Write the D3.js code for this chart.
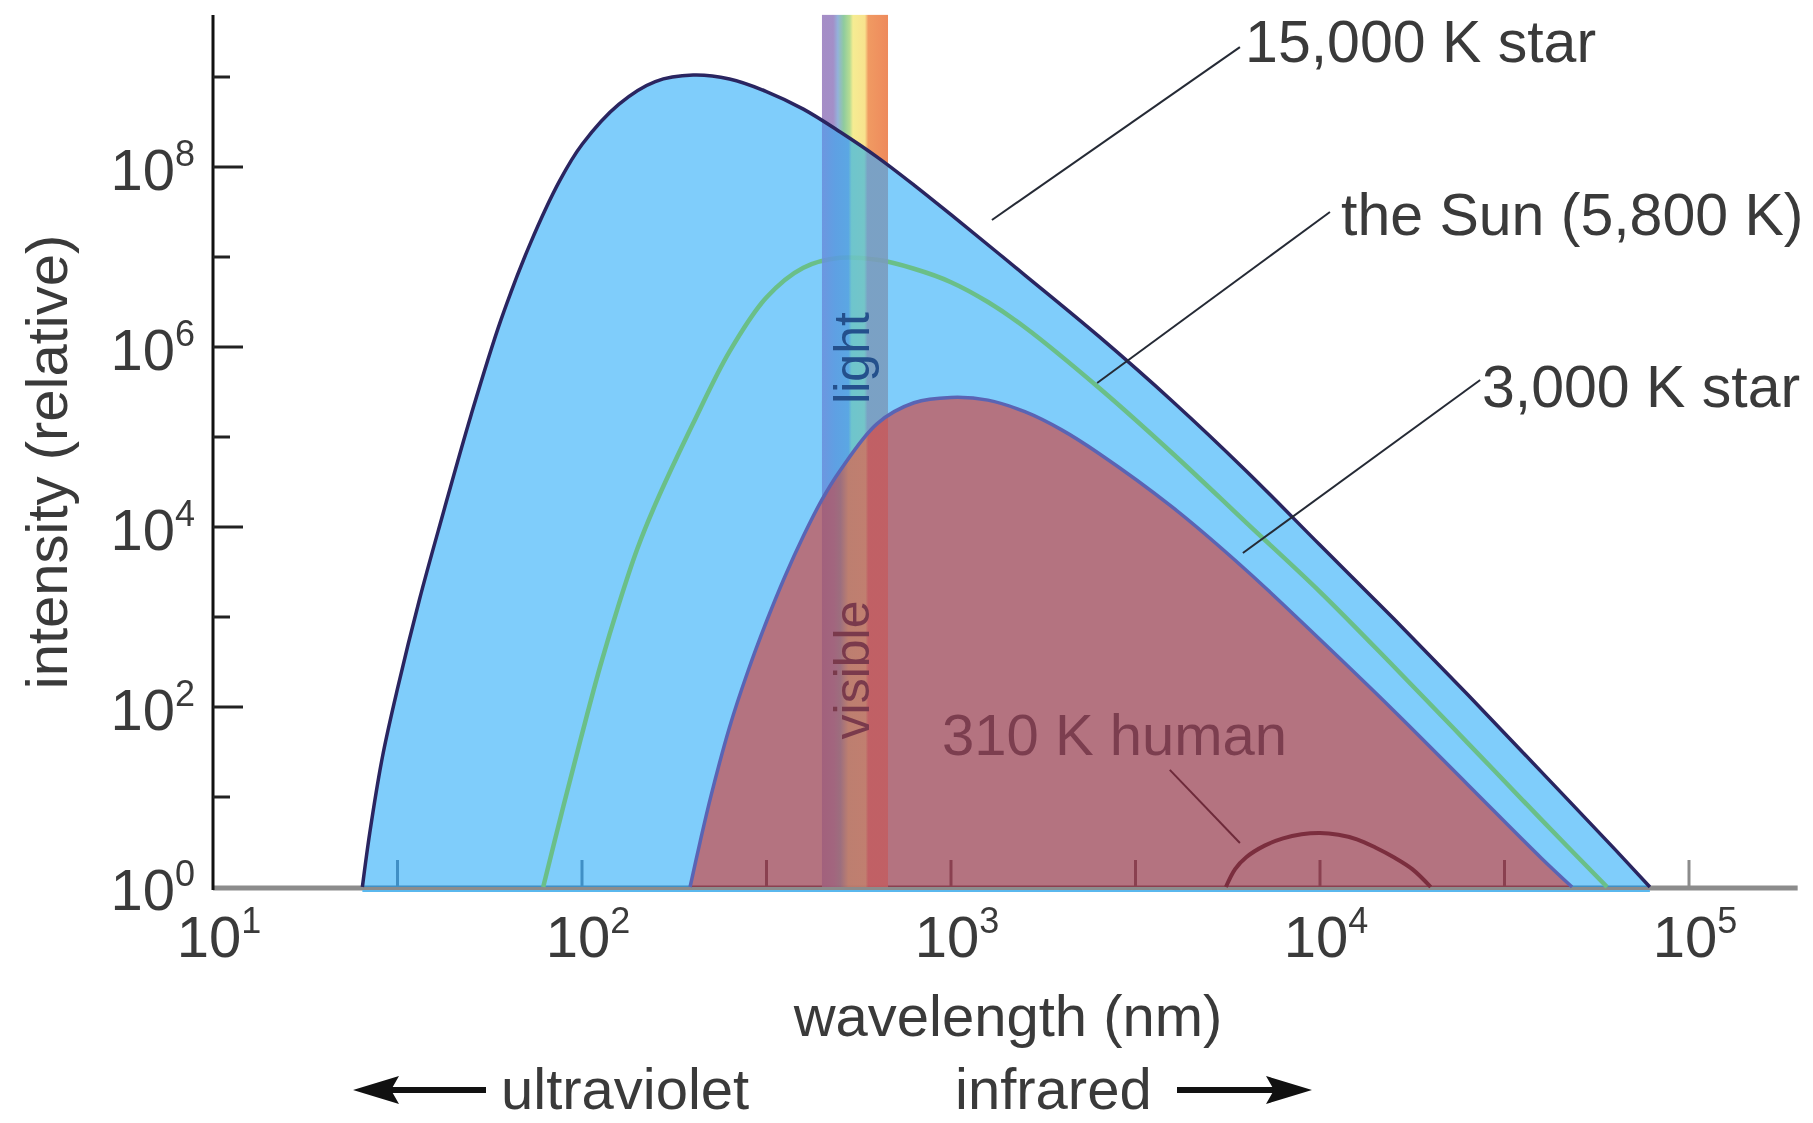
<!DOCTYPE html>
<html lang="en">
<head>
  <meta charset="UTF-8" />
  <title>Blackbody curves</title>
  <script src="https://cdn.jsdelivr.net/npm/d3@7"></script>
  <style>
    body { margin: 0; background: #fff; }
    text { font-family: "Liberation Sans", Arial, Helvetica, sans-serif; }
  </style>
</head>
<body>
<script>
  const width = 1813;
  const height = 1123;

  // curves: [wavelength (nm), relative intensity]
  const star15000 = [[25.4, 1], [26.6, 4], [28.8, 28.2], [31.6, 158], [36.3, 1585], [41.7, 1.26e4],
    [50.1, 1.78e5], [60.3, 2.0e6], [72.4, 1.41e7], [87.1, 7.1e7], [100, 1.78e8], [126, 5.0e8],
    [158, 8.9e8], [200, 1.05e9], [251, 9.5e8], [316, 6.9e8], [398, 4.4e8], [501, 2.45e8],
    [631, 1.29e8], [794, 6.3e7], [1000, 2.95e7], [1585, 6.3e6], [2512, 1.32e6], [3981, 2.5e5],
    [6310, 4.2e4], [10000, 6300], [15849, 955], [25119, 138], [39811, 19], [63096, 2.6], [78343, 1]];

  const sun5800 = [[78.5, 1], [89.1, 8], [100, 50], [112, 282], [126, 1410], [141, 5620],
    [158, 1.78e4], [200, 1.41e5], [251, 8.9e5], [316, 3.55e6], [398, 7.6e6], [501, 9.8e6],
    [631, 9.3e6], [794, 7.4e6], [1000, 5.25e6], [1259, 3.16e6], [1585, 1.66e6], [2512, 3.55e5],
    [3981, 6.6e4], [6310, 1.12e4], [10000, 1905], [15849, 282], [25119, 40], [39811, 5.6], [59980, 1]];

  const star3000 = [[196.3, 1], [208.9, 3.16], [223.9, 10.5], [251.2, 60], [281.8, 251],
    [316.2, 891], [354.8, 2820], [398.1, 7940], [446.7, 2.0e4], [501.2, 4.27e4], [631, 1.41e5],
    [794, 2.4e5], [1000, 2.75e5], [1259, 2.57e5], [1585, 1.91e5], [1995, 1.2e5], [2512, 6.6e4],
    [3981, 1.66e4], [6310, 3310], [10000, 562], [15849, 91], [25119, 13.8], [39811, 2.09], [48195, 1]];

  const human310 = [[5559, 1], [5888, 1.58], [6310, 2.14], [7079, 2.88], [7943, 3.47],
    [8913, 3.85], [10000, 3.98], [11220, 3.8], [12589, 3.39], [14125, 2.75], [15849, 2.14],
    [17783, 1.58], [19953, 1]];

  const visibleBand = [447, 675];
  const xLabelExps = [1, 2, 3, 4, 5];
  const xTickExps = [1.5, 2, 2.5, 3, 3.5, 4, 4.5, 5];
  const yLabelExps = [0, 2, 4, 6, 8];
  const yMajorExps = [2, 4, 6, 8];
  const yMinorExps = [1, 3, 5, 7, 9];
  const xAxisEnd = 1.97e5;
  const yAxisTop = 4.9e9;

  // callout labels: text position and leader line ends, in data units
  const callouts = [
    { text: '15,000 K star', at: [6266, 1.47e9], from: [6067, 2.15e9], to: [1291, 2.58e7] },
    { text: 'the Sun (5,800 K)', at: [11400, 1.75e7], from: [10640, 3.16e7], to: [2489, 3.98e5] },
    { text: '3,000 K star', at: [27480, 2.15e5], from: [27170, 4.3e5], to: [6180, 5140] }
  ];
  const humanCallout = { text: '310 K human', at: [946, 29.3], from: [3917, 20], to: [6067, 3.08] };
  const bandLabels = [{ text: 'light', at: 7.55e5, color: '#24508c' },
                      { text: 'visible', at: 258, color: '#7a3a4c' }];

  // band colours: over white, over the blue area, over the red area
  const bandWhite = [[0, '#a58dc6'], [0.17, '#a38fc8'], [0.24, '#93b2da'], [0.33, '#8fcb9e'],
    [0.42, '#b6dc92'], [0.47, '#f6ec92'], [0.65, '#f8e28e'], [0.70, '#f09a62'], [1, '#ee8a5c']];
  const bandBlue = [[0, '#6a8fdc'], [0.2, '#5a9ae0'], [0.40, '#56a2e0'], [0.45, '#6cc4c6'],
    [0.64, '#72c4c2'], [0.69, '#7a9bbd'], [1, '#7a9bbd']];
  const bandRed = [[0, '#a05f7c'], [0.18, '#a0647e'], [0.28, '#9a6e7e'], [0.40, '#be806e'],
    [0.66, '#c2806e'], [0.70, '#c25e62'], [1, '#c25e62']];

  const x = d3.scaleLog().domain([10, 1e5]).range([213, 1689]);
  const y = d3.scaleLog().domain([1, 1e9]).range([887, 77]);

  const svg = d3.select('body').append('svg')
    .attr('width', width)
    .attr('height', height);

  const curve = d3.curveCatmullRom.alpha(0.5);
  const line = d3.line().x(d => x(d[0])).y(d => y(d[1])).curve(curve);
  const area = d3.area().x(d => x(d[0])).y0(y(1)).y1(d => y(d[1])).curve(curve);

  const defs = svg.append('defs');
  defs.append('clipPath').attr('id', 'clip15').append('path').attr('d', area(star15000));
  defs.append('clipPath').attr('id', 'clip3').append('path').attr('d', area(star3000));

  function gradient(id, stops) {
    const g = defs.append('linearGradient').attr('id', id)
      .attr('x1', 0).attr('x2', 1).attr('y1', 0).attr('y2', 0);
    g.selectAll('stop').data(stops).join('stop')
      .attr('offset', d => d[0]).attr('stop-color', d => d[1]);
  }
  gradient('bandWhite', bandWhite);
  gradient('bandBlue', bandBlue);
  gradient('bandRed', bandRed);

  function band(fill, clip, opacity) {
    const r = svg.append('rect')
      .attr('x', x(visibleBand[0]))
      .attr('width', x(visibleBand[1]) - x(visibleBand[0]))
      .attr('y', y(yAxisTop))
      .attr('height', y(1) - y(yAxisTop))
      .attr('fill', `url(#${fill})`)
      .attr('opacity', opacity);
    if (clip) r.attr('clip-path', `url(#${clip})`);
  }

  // x axis ticks, optionally tinted for the coloured areas
  function xAxisMarks(g, color) {
    g.append('line')
      .attr('x1', x(10)).attr('x2', x(xAxisEnd))
      .attr('y1', y(1) + 1).attr('y2', y(1) + 1)
      .attr('stroke', color).attr('stroke-width', 5);
    g.selectAll('.xt').data(xTickExps).join('line')
      .attr('x1', d => x(Math.pow(10, d))).attr('x2', d => x(Math.pow(10, d)))
      .attr('y1', y(1)).attr('y2', y(1) - 27)
      .attr('stroke', color).attr('stroke-width', 3);
  }

  // visible band over white
  band('bandWhite', null, 1);

  // plain axis marks (covered by the fills)
  xAxisMarks(svg.append('g'), '#8c8c8c');

  // 15,000 K fill
  svg.append('path').attr('d', area(star15000)).attr('fill', '#7fcdfb');
  xAxisMarks(svg.append('g').attr('clip-path', 'url(#clip15)')
    .style('mix-blend-mode', 'multiply'), '#7fb2c8');

  // sun curve
  svg.append('path').attr('d', line(sun5800))
    .attr('fill', 'none').attr('stroke', '#6abf88').attr('stroke-width', 4.5);

  band('bandBlue', 'clip15', 0.88);

  // 3,000 K fill
  svg.append('path').attr('d', area(star3000)).attr('fill', '#b47380');
  xAxisMarks(svg.append('g').attr('clip-path', 'url(#clip3)')
    .style('mix-blend-mode', 'multiply'), '#c48ea0');
  band('bandRed', 'clip3', 0.9);

  // bright base line under the fills
  svg.append('line')
    .attr('x1', x(star15000[0][0])).attr('x2', x(star15000[star15000.length - 1][0]))
    .attr('y1', y(1) + 4).attr('y2', y(1) + 4)
    .attr('stroke', '#5ab8ee').attr('stroke-width', 2);

  // outlines
  svg.append('path').attr('d', line(star3000))
    .attr('fill', 'none').attr('stroke', '#5a64b4').attr('stroke-width', 3.5);
  svg.append('path').attr('d', line(star15000))
    .attr('fill', 'none').attr('stroke', '#2a2560').attr('stroke-width', 3.5);
  svg.append('path').attr('d', line(human310))
    .attr('fill', 'none').attr('stroke', '#7b2e3e').attr('stroke-width', 4);

  // band labels
  const bandX = x(Math.sqrt(visibleBand[0] * visibleBand[1])) + 14;
  svg.selectAll('.bandlabel').data(bandLabels).join('text')
    .attr('transform', d => `translate(${bandX},${y(d.at)}) rotate(-90)`)
    .attr('text-anchor', 'middle')
    .attr('font-size', 50)
    .attr('fill', d => d.color)
    .text(d => d.text);

  // y axis
  svg.append('line')
    .attr('x1', x(10)).attr('x2', x(10))
    .attr('y1', y(yAxisTop)).attr('y2', y(1) + 3)
    .attr('stroke', '#111').attr('stroke-width', 3);
  svg.selectAll('.ymaj').data(yMajorExps).join('line')
    .attr('x1', x(10)).attr('x2', x(10) + 30)
    .attr('y1', d => y(Math.pow(10, d))).attr('y2', d => y(Math.pow(10, d)))
    .attr('stroke', '#222').attr('stroke-width', 3);
  svg.selectAll('.ymin').data(yMinorExps).join('line')
    .attr('x1', x(10)).attr('x2', x(10) + 17)
    .attr('y1', d => y(Math.pow(10, d))).attr('y2', d => y(Math.pow(10, d)))
    .attr('stroke', '#222').attr('stroke-width', 3);

  // tick labels with superscripts
  const txtColor = '#3a3a3a';
  function powerLabel(sel) {
    sel.append('tspan').text('10');
    sel.append('tspan').attr('dy', -24).attr('font-size', 36).text(d => d);
  }
  svg.selectAll('.ylab').data(yLabelExps).join('text')
    .attr('x', x(10) - 18)
    .attr('y', d => y(Math.pow(10, d)) + 23)
    .attr('text-anchor', 'end')
    .attr('font-size', 58)
    .attr('fill', txtColor)
    .call(powerLabel);
  svg.selectAll('.xlab').data(xLabelExps).join('text')
    .attr('x', d => x(Math.pow(10, d)) + 6)
    .attr('y', y(1) + 70)
    .attr('text-anchor', 'middle')
    .attr('font-size', 58)
    .attr('fill', txtColor)
    .call(powerLabel);

  // axis titles
  svg.append('text')
    .attr('transform', `translate(67,462) rotate(-90)`)
    .attr('text-anchor', 'middle')
    .attr('font-size', 58)
    .attr('fill', txtColor)
    .text('intensity (relative)');
  svg.append('text')
    .attr('x', 1008).attr('y', 1036)
    .attr('text-anchor', 'middle')
    .attr('font-size', 58)
    .attr('fill', txtColor)
    .text('wavelength (nm)');

  // ultraviolet / infrared with arrows
  svg.append('text').attr('x', 501).attr('y', 1109)
    .attr('font-size', 58).attr('fill', txtColor).text('ultraviolet');
  svg.append('text').attr('x', 955).attr('y', 1109)
    .attr('font-size', 58).attr('fill', txtColor).text('infrared');
  function arrow(x0, x1, yy) {
    const dir = Math.sign(x1 - x0);
    svg.append('line')
      .attr('x1', x0).attr('x2', x1 - dir * 30)
      .attr('y1', yy).attr('y2', yy)
      .attr('stroke', '#111').attr('stroke-width', 6);
    svg.append('path')
      .attr('d', `M${x1},${yy} L${x1 - dir * 46},${yy - 14} L${x1 - dir * 38},${yy} L${x1 - dir * 46},${yy + 14} Z`)
      .attr('fill', '#111');
  }
  arrow(486, 353, 1090);
  arrow(1177, 1312, 1090);

  // callouts
  svg.selectAll('.leader').data(callouts).join('line')
    .attr('x1', d => x(d.from[0])).attr('y1', d => y(d.from[1]))
    .attr('x2', d => x(d.to[0])).attr('y2', d => y(d.to[1]))
    .attr('stroke', '#252a35').attr('stroke-width', 2);
  svg.selectAll('.callout').data(callouts).join('text')
    .attr('x', d => x(d.at[0])).attr('y', d => y(d.at[1]))
    .attr('font-size', 59)
    .attr('fill', txtColor)
    .text(d => d.text);

  svg.append('line')
    .attr('x1', x(humanCallout.from[0])).attr('y1', y(humanCallout.from[1]))
    .attr('x2', x(humanCallout.to[0])).attr('y2', y(humanCallout.to[1]))
    .attr('stroke', '#6e2a3a').attr('stroke-width', 2);
  svg.append('text')
    .attr('x', x(humanCallout.at[0])).attr('y', y(humanCallout.at[1]))
    .attr('font-size', 58)
    .attr('fill', '#7c3e4f')
    .text(humanCallout.text);
</script>
</body>
</html>
